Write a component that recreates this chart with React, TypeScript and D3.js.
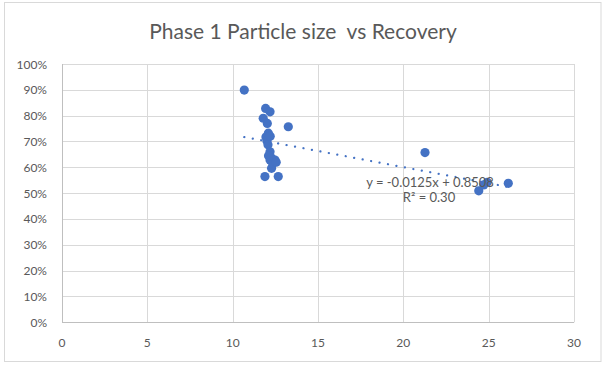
import React from "react";
import * as d3 from "d3";

const particleSize = [
  10.68, 11.93, 12.19, 11.79, 12.03, 13.26, 12.09, 11.95, 12.01, 12.07,
  12.19, 12.28, 12.19, 12.48, 12.28, 11.89, 12.67, 12.2, 12.35, 12.55,
  12.1, 21.27, 24.42, 24.71, 24.92, 26.15,
];
const recovery = [
  0.899, 0.828, 0.815, 0.79, 0.77, 0.757, 0.732, 0.717, 0.702, 0.687,
  0.66, 0.636, 0.628, 0.628, 0.596, 0.564, 0.564, 0.72, 0.615, 0.62,
  0.645, 0.657, 0.509, 0.532, 0.542, 0.538,
];
const xTicks = [0, 5, 10, 15, 20, 25, 30];
const yTicks = [0, 0.1, 0.2, 0.3, 0.4, 0.5, 0.6, 0.7, 0.8, 0.9, 1.0];
const trendSlope = -0.0125;
const trendIntercept = 0.8508;
const title = "Phase 1 Particle size  vs Recovery";
const eqLabel = "y = -0.0125x + 0.8508";
const r2Label = "R² = 0.30";

const W = 605;
const H = 365;
const left = 62;
const right = 574;
const top = 64;
const bottom = 322.3;
const font = "Lato, 'Open Sans', sans-serif";
const textColor = "#595959";
const dotColor = "#4472C4";

export default function App() {
  const x = d3.scaleLinear().domain([0, 30]).range([left, right]);
  const y = d3.scaleLinear().domain([0, 1]).range([bottom, top]);
  const xMin = d3.min(particleSize) as number;
  const xMax = d3.max(particleSize) as number;
  const trend = d3
    .line<number>()
    .x((d) => x(d))
    .y((d) => y(trendSlope * d + trendIntercept));
  return (
    <svg
      width={W}
      height={H}
      style={{ position: "absolute", left: 0, top: 0, background: "#fff" }}
    >
      <rect x={4.5} y={2.5} width={596.5} height={359} fill="#fff" stroke="#d9d9d9" strokeWidth={1} />
      <text x={303} y={38.5} textAnchor="middle" fontFamily={font} fontSize={21} fill={textColor} style={{ whiteSpace: "pre" }}>
        {title}
      </text>
      {yTicks.map((t) => (
        <g key={"y" + t}>
          <line x1={left} x2={right} y1={Math.round(y(t)) + 0.5} y2={Math.round(y(t)) + 0.5} stroke="#d9d9d9" strokeWidth={1} />
          <text x={47} y={y(t) + 4.5} textAnchor="end" fontFamily={font} fontSize={12} fill={textColor}>
            {d3.format(".0%")(t)}
          </text>
        </g>
      ))}
      {xTicks.map((t) => (
        <g key={"x" + t}>
          <line x1={Math.round(x(t)) + 0.5} x2={Math.round(x(t)) + 0.5} y1={top} y2={bottom} stroke="#d9d9d9" strokeWidth={1} />
          <text x={x(t)} y={346.5} textAnchor="middle" fontFamily={font} fontSize={12} fill={textColor}>
            {t}
          </text>
        </g>
      ))}
      <line x1={left} x2={right} y1={Math.round(bottom) + 0.5} y2={Math.round(bottom) + 0.5} stroke="#bfbfbf" strokeWidth={1} />
      <line x1={left + 0.5} x2={left + 0.5} y1={top} y2={bottom} stroke="#bfbfbf" strokeWidth={1} />
      {particleSize.map((v, i) => (
        <circle key={"p" + i} cx={x(v)} cy={y(recovery[i])} r={4.6} fill={dotColor} />
      ))}
      <path
        d={trend([xMin, xMax]) || ""}
        fill="none"
        stroke={dotColor}
        strokeWidth={2.2}
        strokeDasharray="0.1 8.5"
        strokeLinecap="round"
      />
      <text x={430} y={186.5} textAnchor="middle" fontFamily={font} fontSize={13} fill={textColor}>
        {eqLabel}
      </text>
      <text x={429} y={202} textAnchor="middle" fontFamily={font} fontSize={13} fill={textColor}>
        {r2Label}
      </text>
    </svg>
  );
}
